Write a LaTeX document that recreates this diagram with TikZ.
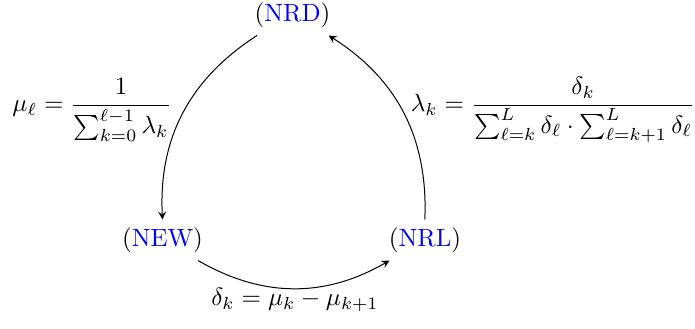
\documentclass[tikz,border=0pt]{standalone}
\usetikzlibrary{arrows}
\begin{document}
\begin{tikzpicture}[x=0.4pt,y=-0.4pt,
  state/.style={inner sep=3pt},
  conn/.style={->,>=stealth}]
\useasboundingbox (0,0) rectangle (695,328);
\node[state] (NRD) at (292.5,15) {(\textcolor{blue}{NRD})};
\node[state] (NEW) at (162.5,240) {(\textcolor{blue}{NEW})};
\node[state] (NRL) at (425,240) {(\textcolor{blue}{NRL})};
\draw[conn] (NRD) to[bend right=30] (NEW);
\draw[conn] (NEW) to[bend right=30] (NRL);
\draw[conn] (NRL) to[bend right=30] (NRD);
\node (lmu) at (92,110) {$\displaystyle \mu_\ell = \frac{1}{\sum_{k=0}^{\ell-1}\lambda_k}$};
\node (llam) at (553,110) {$\displaystyle \lambda_k = \frac{\delta_k}{\sum_{\ell=k}^{L}\delta_\ell\cdot\sum_{\ell=k+1}^{L}\delta_\ell}$};
\node (ldel) at (295,300) {$\delta_k = \mu_k - \mu_{k+1}$};
\end{tikzpicture}
\end{document}
